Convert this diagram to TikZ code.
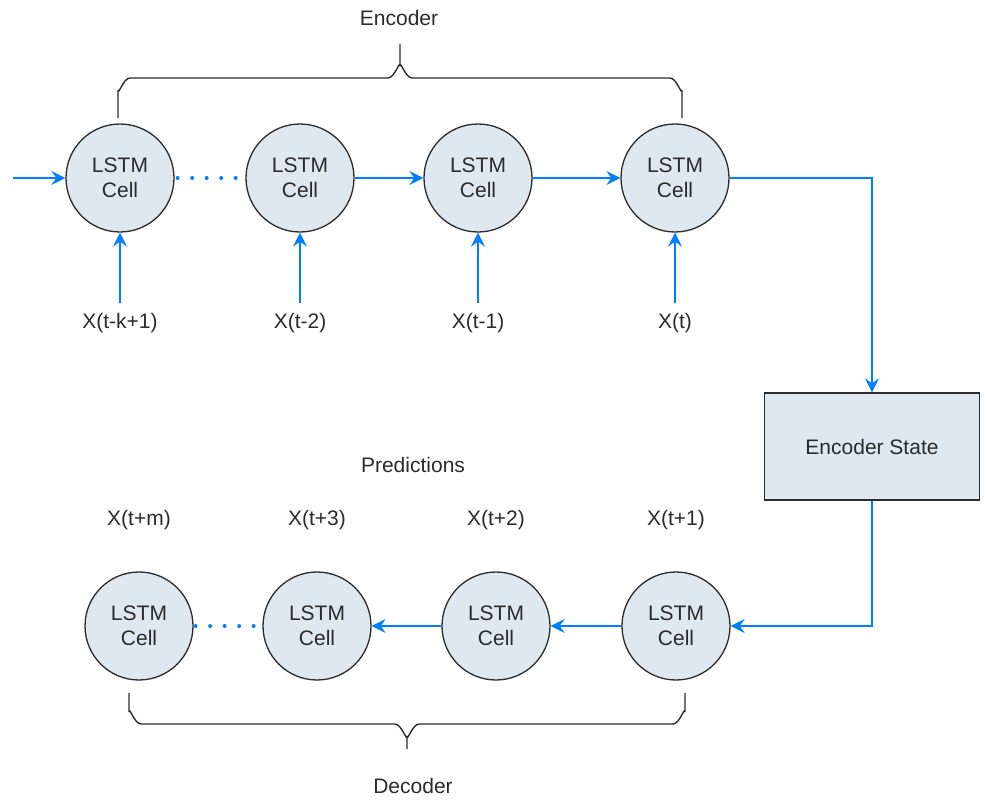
\documentclass[tikz,border=0pt]{standalone}
\usepackage{fontspec}
\setmainfont{Liberation Sans}
\usetikzlibrary{arrows.meta}
\definecolor{cellfill}{HTML}{DEE8F0}
\definecolor{flow}{HTML}{007FFF}
\definecolor{ink}{HTML}{2B2B2B}
\tikzset{
  cell/.style={circle, draw=ink, line width=1.3pt, fill=cellfill, minimum size=108pt, inner sep=0pt,
    align=center, font=\fontsize{21}{25}\selectfont, text=ink},
  lbl/.style={font=\fontsize{21}{24}\selectfont, text=ink, inner sep=0pt},
  statebox/.style={rectangle, draw=ink, line width=1.3pt, fill=cellfill, minimum width=215pt, minimum height=107pt,
    font=\fontsize{21}{24}\selectfont, text=ink},
  arr/.style={draw=flow, line width=1.6pt, -{Stealth[length=14pt,width=14pt,inset=5pt]}},
  dots/.style={draw=flow, line width=4pt, line cap=round, dash pattern=on 0pt off 14.5pt},
  brace/.style={draw=ink, line width=1.4pt}
}
\begin{document}
\begin{tikzpicture}[x=1pt,y=-1pt]
\useasboundingbox (0,0) rectangle (988,800);

% encoder cells
\node[cell] (c1) at (120,178) {LSTM\\Cell};
\node[cell] (c2) at (300,178) {LSTM\\Cell};
\node[cell] (c3) at (478,178) {LSTM\\Cell};
\node[cell] (c4) at (675,178) {LSTM\\Cell};

% inputs
\node[lbl] (x1) at (120,323) {X(t-k+1)};
\node[lbl] (x2) at (300,323) {X(t-2)};
\node[lbl] (x3) at (478,323) {X(t-1)};
\node[lbl] (x4) at (675,323) {X(t)};

\coordinate (in) at (13,178);
\draw[arr] (in) -- (c1);
\draw[dots] ([xshift=3pt]c1.east) -- ([xshift=-8pt]c2.west);
\draw[arr] (c2) -- (c3);
\draw[arr] (c3) -- (c4);
\foreach \i in {1,2,3,4}{
  \draw[arr] (x\i) ++(0,-20) -- (c\i);
}

% encoder state
\node[statebox] (es) at (872,446.5) {Encoder State};
\draw[arr] (c4.east) -| (es.north);

% decoder cells
\node[cell] (d1) at (139,626) {LSTM\\Cell};
\node[cell] (d2) at (317,626) {LSTM\\Cell};
\node[cell] (d3) at (496,626) {LSTM\\Cell};
\node[cell] (d4) at (676,626) {LSTM\\Cell};

\draw[arr] (es.south) |- (d4.east);
\draw[arr] (d4) -- (d3);
\draw[arr] (d3) -- (d2);
\draw[dots] ([xshift=2pt]d1.east) -- ([xshift=-7pt]d2.west);

% predictions
\node[lbl] (p1) at (139,520) {X(t+m)};
\node[lbl] (p2) at (317,520) {X(t+3)};
\node[lbl] (p3) at (496,520) {X(t+2)};
\node[lbl] (p4) at (676,520) {X(t+1)};
\node[lbl] (pred) at (413,465) {Predictions};

% encoder brace
\node[lbl] (enc) at (399,18) {Encoder};
\coordinate (ebl) at (118,118);
\coordinate (ebt) at (400,44);
\coordinate (ebr) at (682,118);
\draw[brace] (ebl) -- (118,90) to[out=-90,in=180] (130,78) -- (388,78) to[out=0,in=90] (400,66) -- (ebt);
\draw[brace] (400,66) to[out=90,in=180] (412,78) -- (670,78) to[out=0,in=-90] (682,90) -- (ebr);

% decoder brace
\node[lbl] (dec) at (413,786) {Decoder};
\coordinate (dbl) at (129,693);
\coordinate (dbt) at (407,749);
\coordinate (dbr) at (685,693);
\draw[brace] (dbl) -- (129,712) to[out=90,in=180] (141,724) -- (395,724) to[out=0,in=-90] (407,736) -- (dbt);
\draw[brace] (407,736) to[out=-90,in=180] (419,724) -- (673,724) to[out=0,in=90] (685,712) -- (dbr);
\end{tikzpicture}
\end{document}
